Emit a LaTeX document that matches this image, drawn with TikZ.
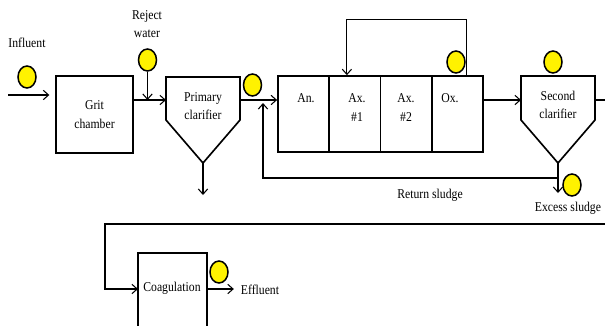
\documentclass[tikz,border=0pt]{standalone}
\usepackage{fontspec}
\setmainfont{Liberation Serif}[FakeStretch=0.87]
\usetikzlibrary{shapes.geometric,arrows.meta}

\tikzset{
    unit/.style={draw, line width=1.4pt, minimum width=2.31cm, minimum height=2.31cm, align=center, font=\fontsize{11.5}{16}\selectfont},
    tank/.style={draw, line width=1.4pt, minimum width=1.54cm, minimum height=2.28cm, inner sep=0pt},
    probe/.style={ellipse, draw, line width=1.3pt, fill=yellow, minimum width=0.54cm, minimum height=0.66cm, inner sep=0pt},
    lbl/.style={font=\fontsize{11.5}{16}\selectfont, align=center, inner sep=1pt},
    flow/.style={-{Straight Barb[length=4.5pt,width=8pt]}, line width=0.9pt},
    pipe/.style={line width=0.9pt}
}

\begin{document}
\begin{tikzpicture}[x=0.03cm, y=-0.03cm]
    \clip (0,0) rectangle (605,325);

    % Influent and grit chamber
    \node[lbl] (inlbl) at (27,43) {Influent};
    \node[probe] (pin) at (27,77) {};
    \coordinate (in) at (8,95);
    \node[unit] (grit) at (94.5,114.5) {Grit\\chamber};
    \draw[flow, shorten >=5pt] (in) -- (in -| grit.west);

    % Primary clarifier
    \coordinate (pcin) at (166,100);
    \coordinate (pcout) at (240,100);
    \coordinate (pcbot) at (203,163);
    \draw[line width=1.4pt] (166,77) -- (240,77) -- (240,120) -- (pcbot) -- (166,120) -- cycle;
    \node[lbl] (pclbl) at (203,106) {Primary\\clarifier};
    \draw[flow] (grit.east |- pcin) -- (pcin);
    \draw[flow] (pcbot) -- ++(0,32);

    % Reject water
    \node[lbl] (rejlbl) at (147,24) {Reject\\water};
    \node[probe] (prej) at (147.5,60) {};
    \draw[flow] (prej.south) -- (prej.south |- pcin);

    % Bioreactor compartments
    \node[tank] (an)  at (303.6,114) {};
    \node[tank] (ax1) at (354.9,114) {};
    \node[tank] (ax2) at (406.1,114) {};
    \node[tank] (ox)  at (457.4,114) {};
    \node[lbl] at (306,98) {An.};
    \node[lbl] at (357,107.5) {Ax.\\\#1};
    \node[lbl] at (406,107.5) {Ax.\\\#2};
    \node[lbl] at (450,98) {Ox.};
    \node[probe] (pout1) at (252.5,85) {};
    \node[probe] (pox) at (456,62) {};
    \draw[flow] (pcout) -- (pcout -| an.west);

    % Internal recycle
    \draw[flow] ([xshift=0.26cm]ox.north) -- ++(0,-56) -| ([xshift=-0.24cm]ax1.north);

    % Second clarifier
    \coordinate (scin) at (521,100);
    \coordinate (scbot) at (558,163);
    \draw[line width=1.4pt] (521,76) -- (595,76) -- (595,120) -- (scbot) -- (521,120) -- cycle;
    \node[lbl] (sclbl) at (558,105) {Second\\clarifier};
    \node[probe] (psc) at (553,62) {};
    \draw[flow] (ox.east |- scin) -- (scin);
    \draw[pipe] (595,100) -- (610,100);

    % Return and excess sludge
    \coordinate (retA) at (558,178);
    \coordinate (retB) at (263,178);
    \coordinate (retC) at (263,103);
    \draw[flow] (retA) -- (retB) -- (retC);
    \draw[flow] (scbot) -- ++(0,30);
    \node[probe] (pex) at (572,185) {};
    \node[lbl] (retlbl) at (430,195) {Return sludge};
    \node[lbl] (exlbl) at (568,208) {Excess sludge};

    % Coagulation and effluent
    \node[unit, minimum width=2.07cm, minimum height=2.7cm] (coag) at (172.5,298) {};
    \node[lbl] (coaglbl) at (172,288) {Coagulation};
    \coordinate (cin) at (138,289);
    \draw[flow] (610,224) -- (105,224) |- (cin);
    \node[probe] (peff) at (219,272) {};
    \draw[flow] (coag.east |- cin) -- ++(26,0);
    \node[lbl] (efflbl) at (260,290) {Effluent};
\end{tikzpicture}
\end{document}
